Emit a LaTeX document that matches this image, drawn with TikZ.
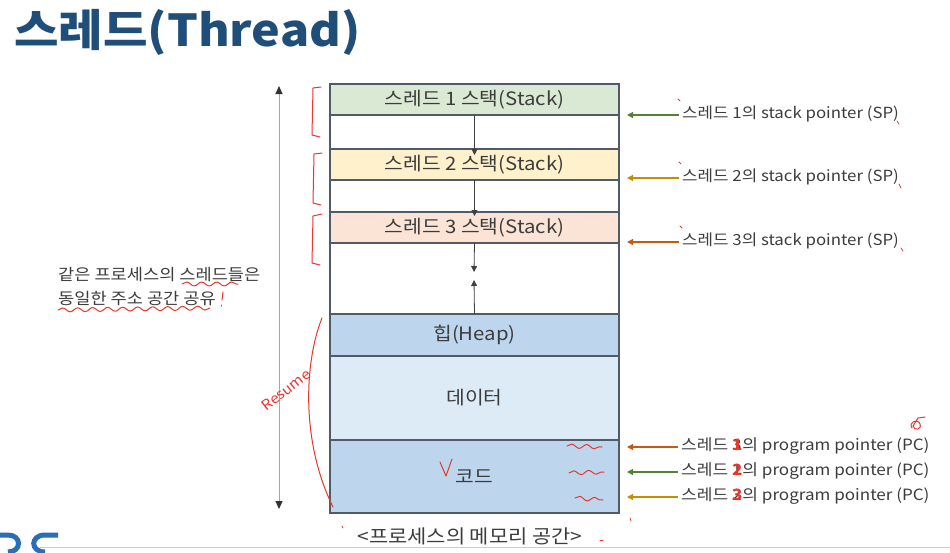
\documentclass[tikz,border=0pt]{standalone}
\usepackage{fontspec}
\setmainfont{Noto Sans CJK KR}[FakeStretch=1.1]
\usetikzlibrary{arrows.meta,decorations.pathmorphing,calc}
\definecolor{titlec}{RGB}{31,78,121}
\definecolor{labc}{RGB}{60,60,60}
\definecolor{bordc}{RGB}{80,90,105}
\definecolor{st1}{RGB}{218,233,211}
\definecolor{st2}{RGB}{255,241,204}
\definecolor{st3}{RGB}{251,228,213}
\definecolor{heapc}{RGB}{189,214,238}
\definecolor{datac}{RGB}{221,235,247}
\definecolor{greenc}{RGB}{84,130,53}
\definecolor{goldc}{RGB}{191,144,0}
\definecolor{orangec}{RGB}{197,90,17}
\definecolor{annred}{RGB}{232,55,45}
\definecolor{logoc}{RGB}{40,110,185}
\newcommand{\ovd}[2]{\rlap{#1}\textcolor{annred}{\bfseries #2}}
\tikzset{
  seg/.style={draw=bordc, line width=1.5pt, anchor=north west, minimum width=289pt,
    inner sep=0pt, outer sep=0pt, text=labc, font=\fontsize{18.5}{21}\selectfont},
  inarrow/.style={draw=black!75, line width=0.8pt, -{Triangle[length=6pt,width=6pt]}},
  ptr/.style={line width=1.2pt, -{Triangle[length=6pt,width=6pt]}},
  lab/.style={anchor=west, inner sep=0pt, text=labc, font=\fontsize{15.3}{18}\selectfont},
  ann/.style={draw=annred, line width=1pt, line cap=round, line join=round},
  wavy/.style={ann, decorate, decoration={snake, amplitude=2pt, segment length=15pt}}
}
\begin{document}
\begin{tikzpicture}[x=1pt,y=-1pt]
\useasboundingbox[fill=white] (0,0) rectangle (950,552);
% title
\node[anchor=west, inner sep=0pt, text=titlec, font=\fontsize{44}{48}\selectfont\bfseries] (title) at (14,32) {스레드(Thread)};
% memory segments
\node[seg, fill=st1, minimum height=31pt] (s1) at (330,84) {스레드 1 스택(Stack)};
\node[seg, fill=white, minimum height=34pt] (g1) at (330,115) {};
\node[seg, fill=st2, minimum height=31pt] (s2) at (330,149) {스레드 2 스택(Stack)};
\node[seg, fill=white, minimum height=32pt] (g2) at (330,180) {};
\node[seg, fill=st3, minimum height=31pt] (s3) at (330,212) {스레드 3 스택(Stack)};
\node[seg, fill=white, minimum height=71pt] (g3) at (330,243) {};
\node[seg, fill=heapc, minimum height=42pt] (heap) at (330,314) {힙(Heap)};
\node[seg, fill=datac, minimum height=84pt] (data) at (330,356) {데이터};
\node[seg, fill=heapc, minimum height=73pt] (code) at (330,440) {코드};
% inner arrows
\coordinate (m1) at (474,272);
\coordinate (m2) at (474,280);
\draw[inarrow] (s1.south) -- ([yshift=-6pt]s2.north);
\draw[inarrow] (s2.south) -- ([yshift=-4pt]s3.north);
\draw[inarrow] (s3.south) -- (m1);
\draw[inarrow] (heap.north) -- (m2);
% caption
\node[inner sep=0pt, text=labc, font=\fontsize{19}{22}\selectfont] (cap) at (470,536) {<프로세스의 메모리 공간>};
% left double arrow
\coordinate (ta) at (279,86);
\coordinate (tb) at (279,509);
\draw[draw=black!35, line width=1pt, {Triangle[length=8pt,width=7pt,color=black!80]}-{Triangle[length=8pt,width=7pt,color=black!80]}] (ta) -- (tb);
% left text
\node[anchor=west, inner sep=0pt, text=labc, font=\fontsize{16}{19}\selectfont] (lt1) at (58,275) {같은 프로세스의 스레드들은};
\node[anchor=west, inner sep=0pt, text=labc, font=\fontsize{16}{19}\selectfont] (lt2) at (58,299) {동일한 주소 공간 공유};
% stack pointer labels
\node[lab] (sp1) at (682,114) {스레드 1의 stack pointer (SP)};
\node[lab] (sp2) at (682,177) {스레드 2의 stack pointer (SP)};
\node[lab] (sp3) at (682,241) {스레드 3의 stack pointer (SP)};
\draw[ptr, greenc] ([xshift=-3pt]sp1.west |- 0,115) -- (627,115);
\draw[ptr, goldc] ([xshift=-3pt]sp2.west |- 0,178) -- (627,178);
\draw[ptr, orangec] ([xshift=-3pt]sp3.west |- 0,242) -- (627,242);
% program pointer labels
\node[lab, font=\fontsize{15.5}{18}\selectfont] (pc1) at (681,446) {스레드 \ovd{3}{1}의 program pointer (PC)};
\node[lab, font=\fontsize{15.5}{18}\selectfont] (pc2) at (681,471) {스레드 \ovd{1}{2}의 program pointer (PC)};
\node[lab, font=\fontsize{15.5}{18}\selectfont] (pc3) at (681,496) {스레드 \ovd{2}{3}의 program pointer (PC)};
\draw[ptr, orangec] ([xshift=-3pt]pc1.west |- 0,447) -- (627,447);
\draw[ptr, greenc] ([xshift=-3pt]pc2.west |- 0,472) -- (627,472);
\draw[ptr, goldc] ([xshift=-3pt]pc3.west |- 0,497) -- (627,497);
% red annotations
\draw[ann] (321,87) -- (313,88) -- (312,135) -- (320,137);
\draw[ann] (322,153) -- (314,154) -- (313,203) -- (321,205);
\draw[ann] (322,214) -- (313,216) -- (312,263) -- (320,265);
\draw[ann] (322,318) .. controls (305,360) and (300,440) .. (333,507);
\node[text=annred, rotate=38, font=\fontsize{14}{16}\selectfont\itshape, inner sep=0pt] (resume) at (286,390) {Resume};
\draw[wavy] (182,284) -- (238,284);
\draw[wavy] (58,310) -- (210,308);
\draw[ann] (223,292) -- (222,300);
\draw[ann] (221,305) -- (221,306);
\draw[ann] (440,462) -- (446,476) -- (452,459);
\draw[wavy] (567,446) -- (602,447);
\draw[wavy] (569,473) -- (604,472);
\draw[wavy] (575,498) -- (603,500);
\draw[ann] (912,428) .. controls (908,422) and (918,418) .. (920,424) .. controls (922,430) and (914,431) .. (913,426) -- (918,418) -- (925,417);
\draw[ann, line width=0.8pt] (678,99) -- (680,101);
\draw[ann, line width=0.8pt] (679,162) -- (681,164);
\draw[ann, line width=0.8pt] (680,226) -- (682,228);
\draw[ann, line width=0.8pt] (897,121) -- (899,124);
\draw[ann, line width=0.8pt] (899,184) -- (901,188);
\draw[ann, line width=0.8pt] (901,248) -- (903,251);
\draw[ann, line width=0.8pt] (342,526) -- (343,528);
\draw[ann, line width=0.8pt] (600,540) -- (603,540);
\draw[ann, line width=0.8pt] (630,518) -- (631,521);
% footer
\draw[draw=black!20, line width=0.8pt] (40,547) -- (950,547);
\draw[draw=logoc, line width=5pt] (0,535) -- (8,535) .. controls (22,535) and (22,552) .. (8,552);
\draw[draw=logoc, line width=5pt] (58,535) -- (45,535) .. controls (30,535) and (30,552) .. (45,552);
\end{tikzpicture}
\end{document}
